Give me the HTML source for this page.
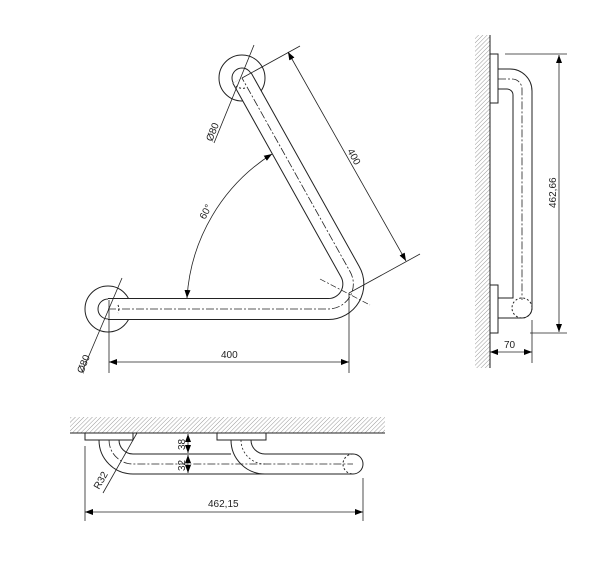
<!DOCTYPE html>
<html><head><meta charset="utf-8"><style>
html,body{margin:0;padding:0;background:#fff;}
svg{display:block;font-family:"Liberation Sans",sans-serif;}
</style></head><body>
<svg width="600" height="579" viewBox="0 0 600 579" xmlns="http://www.w3.org/2000/svg">
<defs>
<pattern id="h" width="3" height="3" patternUnits="userSpaceOnUse" patternTransform="rotate(45)">
<rect width="3" height="3" fill="#fff"/><line x1="0" y1="0" x2="0" y2="3" stroke="#999" stroke-width="1"/>
</pattern>
<marker id="a" markerWidth="8" markerHeight="6" refX="8" refY="3" orient="auto-start-reverse" markerUnits="userSpaceOnUse">
<path d="M0,0 L8,3 L0,6 z" fill="#000"/>
</marker>
</defs>
<g fill="none" stroke="#222" stroke-width="1">
<circle cx="108" cy="309" r="23"/>
<circle cx="108" cy="309" r="10"/>
<circle cx="242" cy="78" r="23"/>
<circle cx="242" cy="78" r="10"/>
<path d="M108,309 L328,309 A25,25 0 0 0 350,271.5 L242,78" stroke="#222" stroke-width="22"/>
<path d="M108,309 L328,309 A25,25 0 0 0 350,271.5 L242,78" stroke="#fff" stroke-width="20"/>
<path d="M108,309 L328,309 A25,25 0 0 0 350,271.5 L242,78" stroke-dasharray="8,2,2,2" stroke-width="0.8"/>
<path d="M118,305 A10,10 0 0 1 118,313" stroke-dasharray="2,2"/>
<path d="M245,88 A10,10 0 0 1 236,86" stroke-dasharray="2,2"/>
<line x1="320" y1="279" x2="370" y2="305" stroke-dasharray="6,2,2,2" stroke-width="0.7"/>
<line x1="109" y1="300" x2="109" y2="373" stroke-width="0.8"/>
<line x1="349" y1="293" x2="349" y2="373" stroke-width="0.8"/>
<line x1="109" y1="362" x2="349" y2="362" stroke-width="0.8" marker-start="url(#a)" marker-end="url(#a)"/>
<line x1="242" y1="78" x2="300" y2="46" stroke-width="0.8"/>
<line x1="349" y1="293" x2="420" y2="254" stroke-width="0.8"/>
<line x1="288" y1="52" x2="406" y2="261" stroke-width="0.8" marker-start="url(#a)" marker-end="url(#a)"/>
<path d="M187,298 A184,184 0 0 1 272,154" stroke-width="0.8" marker-start="url(#a)" marker-end="url(#a)"/>
<line x1="214" y1="143" x2="254" y2="45" stroke-width="0.8"/>
<line x1="82" y1="372" x2="122" y2="278" stroke-width="0.8"/>
<rect x="475" y="35" width="15" height="333" fill="url(#h)" stroke="none"/>
<line x1="490" y1="35" x2="490" y2="368"/>
<rect x="490" y="54" width="8" height="49" fill="#fff"/>
<rect x="490" y="285" width="8" height="48" fill="#fff"/>
<path d="M498,69 L510,69 A22,22 0 0 1 532,91 L532,308"/>
<path d="M498,89 L507,89 A6,6 0 0 1 513,95 L513,298 L498,298"/>
<path d="M498,318 L522,318 A10,10 0 0 0 532,308"/>
<path d="M498,79 L512,79 A10,10 0 0 1 522,89 L522,300" stroke-dasharray="8,2,2,2" stroke-width="0.8"/>
<circle cx="522" cy="308" r="10" stroke-dasharray="2,2"/>
<line x1="505" y1="54" x2="567" y2="54" stroke-width="0.8"/>
<line x1="530" y1="333" x2="567" y2="333" stroke-width="0.8"/>
<line x1="559" y1="55" x2="559" y2="332" stroke-width="0.8" marker-start="url(#a)" marker-end="url(#a)"/>
<line x1="532" y1="320" x2="532" y2="363" stroke-width="0.8"/>
<line x1="490" y1="352" x2="532" y2="352" stroke-width="0.8" marker-start="url(#a)" marker-end="url(#a)"/>
<rect x="70" y="417" width="315" height="16" fill="url(#h)" stroke="none"/>
<line x1="70" y1="433" x2="385" y2="433"/>
<rect x="85" y="433" width="48" height="7" fill="#fff"/>
<rect x="217" y="433" width="49" height="7" fill="#fff"/>
<path d="M99,440 A34,34 0 0 0 133,474 L353,474"/>
<path d="M119,440 A14,14 0 0 0 133,454 L231,454"/>
<path d="M231,440 A34,34 0 0 0 265,474"/>
<path d="M251,440 A14,14 0 0 0 265,454 L353,454"/>
<path d="M353,454 A10,10 0 0 1 353,474"/>
<path d="M109,440 A24,24 0 0 0 133,464 L353,464" stroke-dasharray="8,2,2,2" stroke-width="0.8"/>
<path d="M241,440 A24,24 0 0 0 265,464" stroke-dasharray="2,2" stroke-width="0.8"/>
<path d="M353,454 A10,10 0 0 0 353,474" stroke-dasharray="2,2"/>
<line x1="188" y1="434" x2="188" y2="453" stroke-width="0.8" marker-start="url(#a)" marker-end="url(#a)"/>
<line x1="188" y1="455" x2="188" y2="473" stroke-width="0.8" marker-start="url(#a)" marker-end="url(#a)"/>
<line x1="103" y1="493" x2="137" y2="433" stroke-width="0.8"/>
<line x1="85" y1="446" x2="85" y2="521" stroke-width="0.8"/>
<line x1="363" y1="478" x2="363" y2="521" stroke-width="0.8"/>
<line x1="85" y1="512" x2="363" y2="512" stroke-width="0.8" marker-start="url(#a)" marker-end="url(#a)"/>
</g>
<g fill="#222" font-size="10">
<text x="221" y="358">400</text>
<text transform="translate(347,151) rotate(61)">400</text>
<text transform="translate(205,220) rotate(-62)">60°</text>
<text transform="translate(212,142) rotate(-68)">Ø80</text>
<text transform="translate(83,374) rotate(-68)">Ø80</text>
<text transform="translate(556,208) rotate(-90)">462,66</text>
<text x="504" y="348">70</text>
<text transform="translate(185,450) rotate(-90)">38</text>
<text transform="translate(185,471) rotate(-90)">32</text>
<text transform="translate(99,490) rotate(-60)">R32</text>
<text x="208" y="507">462,15</text>
</g>
</svg>
</body></html>
